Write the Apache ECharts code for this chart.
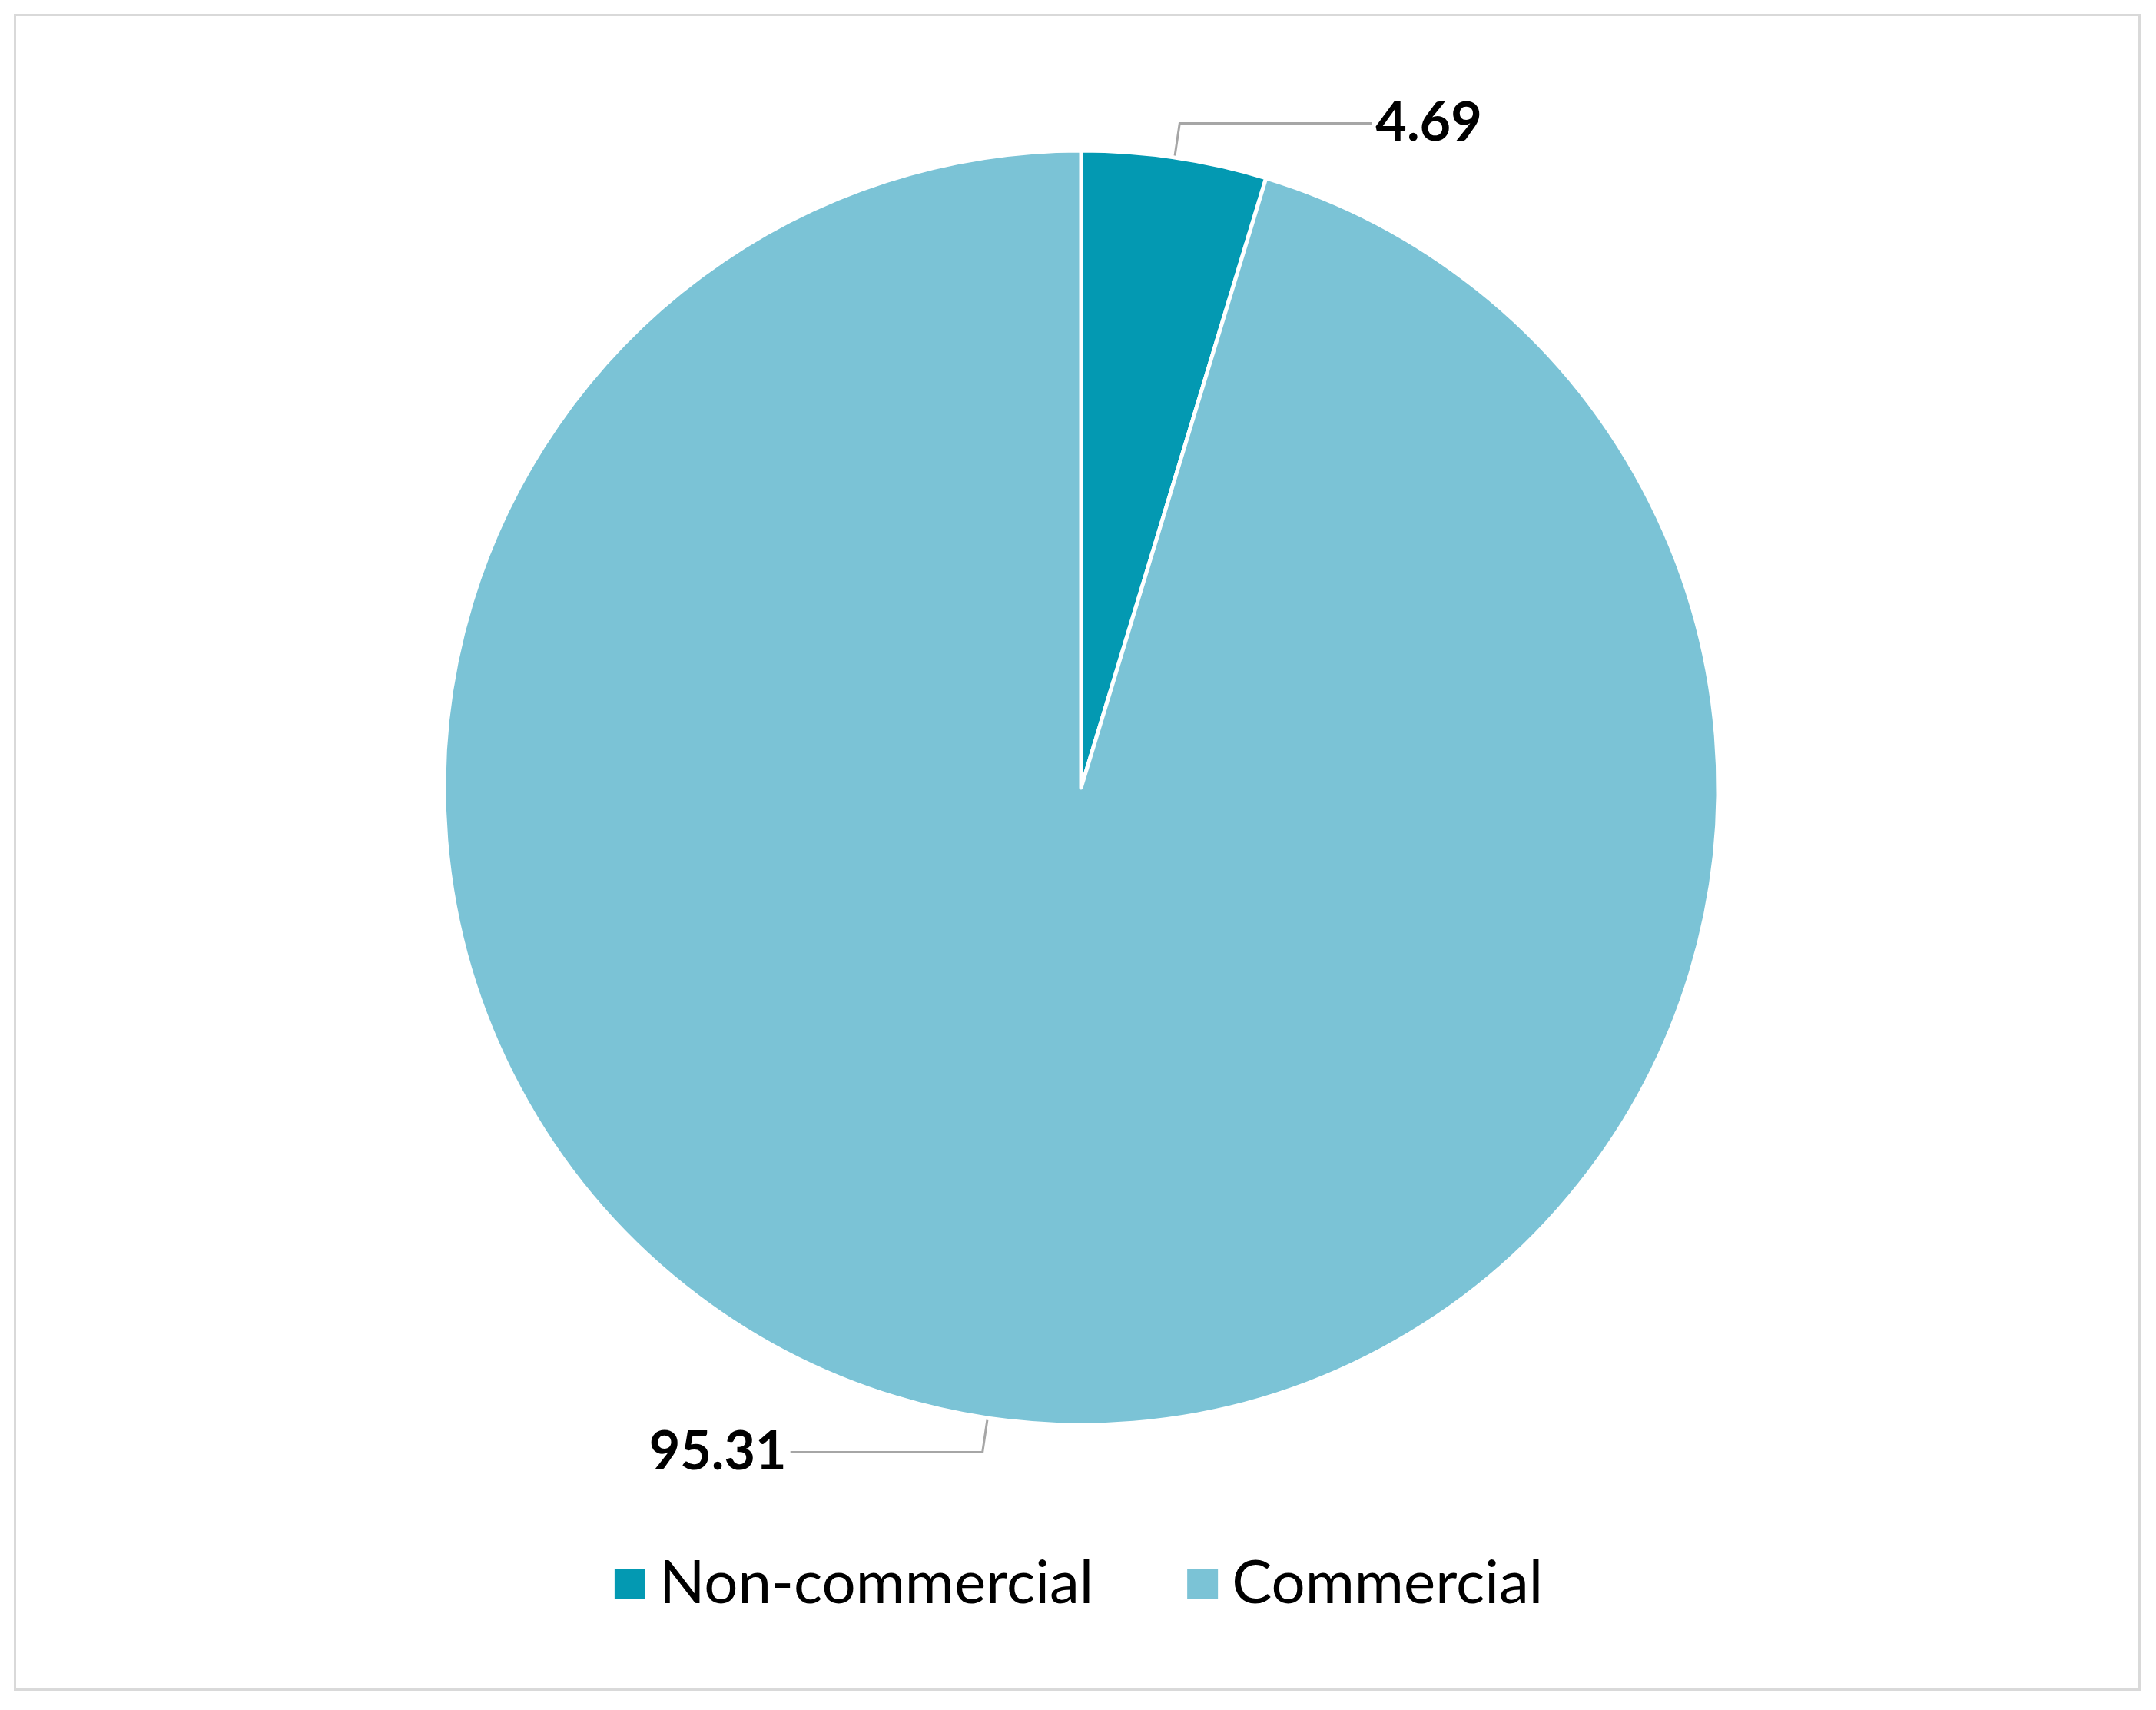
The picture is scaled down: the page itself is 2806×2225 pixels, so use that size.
<!DOCTYPE html>
<html><head><meta charset="utf-8">
<script src="https://cdn.jsdelivr.net/npm/echarts@6/dist/echarts.min.js"></script>
<style>html,body{margin:0;padding:0;background:#fff}#c{width:2806px;height:2225px}
#f{position:absolute;left:18px;top:18px;width:2768px;height:2182px;border:3px solid #d9d9d9;box-sizing:border-box;pointer-events:none}</style>
</head><body><div id="c"></div><div id="f"></div>
<script>
const categories = ["Non-commercial", "Commercial"];
const values = [4.69, 95.31];
const colors = ["#0399B2", "#7BC3D6"];
const chart = echarts.init(document.getElementById('c'));
chart.setOption({
  animation:false,
  color: colors,
  legend:{bottom:120,left:'center',itemWidth:42,itemHeight:42,itemGap:120,icon:'rect',
    textStyle:{fontFamily:'Lato',fontSize:78,color:'#000',padding:[0,0,0,12]},data:categories},
  series:[{type:'pie',center:[1407,1025],radius:[0,829],startAngle:90,clockwise:true,
    itemStyle:{borderColor:'#fff',borderWidth:5},
    label:{show:true,position:'outside',formatter:'{c}',fontFamily:'Lato',fontWeight:'bold',fontSize:70,color:'#000'},
    labelLine:{show:true,length:45,length2:250,lineStyle:{color:'#a6a6a6',width:3}},
    data:categories.map((n,i)=>({name:n,value:values[i]}))}]
});
</script></body></html>
